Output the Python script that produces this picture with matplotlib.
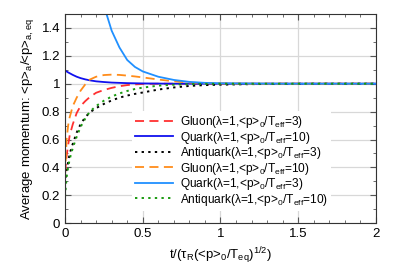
import matplotlib.pyplot as plt
from matplotlib.ticker import MultipleLocator

plt.rcParams['font.family'] = ['Liberation Sans', 'DejaVu Sans']
plt.rcParams['mathtext.fontset'] = 'custom'
plt.rcParams['mathtext.rm'] = 'Liberation Sans'

# -------------------------------------------------
# data
# -------------------------------------------------
t = [0, 0.01, 0.02, 0.03, 0.05, 0.075, 0.1, 0.13, 0.16, 0.2, 0.25, 0.3, 0.35,
     0.4, 0.45, 0.5, 0.6, 0.7, 0.8, 0.9, 1.0, 1.2, 1.4, 1.6, 1.8, 2.0]

gluon_3 = [0.36, 0.48, 0.56, 0.63, 0.71, 0.79, 0.84, 0.875, 0.905, 0.935, 0.955, 0.97, 0.982,
           0.99, 0.995, 0.998, 1.0, 1.0, 1.0, 1.0, 1.0, 1.0, 1.0, 1.0, 1.0, 1.0]
quark_10 = [1.095, 1.088, 1.081, 1.075, 1.063, 1.05, 1.04, 1.031, 1.024, 1.017, 1.012, 1.008, 1.006,
            1.004, 1.003, 1.002, 1.001, 1.0, 1.0, 1.0, 1.0, 1.0, 1.0, 1.0, 1.0, 1.0]
anti_3 = [0.28, 0.38, 0.44, 0.50, 0.57, 0.65, 0.71, 0.76, 0.795, 0.825, 0.855, 0.88, 0.9,
          0.915, 0.927, 0.937, 0.958, 0.973, 0.984, 0.99, 0.993, 0.997, 0.999, 1.0, 1.0, 1.0]
gluon_10 = [0.34, 0.6, 0.7, 0.76, 0.84, 0.9, 0.95, 0.995, 1.03, 1.05, 1.062, 1.065, 1.063,
            1.058, 1.052, 1.045, 1.03, 1.017, 1.008, 1.004, 1.002, 1.0, 1.0, 1.0, 1.0, 1.0]
quark_3 = [3.5, 3.35, 3.2, 3.05, 2.8, 2.5, 2.25, 2.0, 1.82, 1.68, 1.56, 1.38, 1.26,
           1.17, 1.12, 1.088, 1.05, 1.027, 1.013, 1.006, 1.003, 1.001, 1.0, 1.0, 1.0, 1.0]
anti_10 = [0.19, 0.33, 0.40, 0.46, 0.54, 0.62, 0.69, 0.75, 0.80, 0.84, 0.878, 0.908, 0.93,
           0.948, 0.962, 0.972, 0.986, 0.993, 0.997, 0.999, 1.0, 1.0, 1.0, 1.0, 1.0, 1.0]

def lab(name, r):
    return name + r'(λ=1,<p>$_\mathregular{0}$/T$_\mathregular{eff}$=' + r + ')'

# -------------------------------------------------
# plot
# -------------------------------------------------
fig = plt.figure(figsize=(3.99, 2.79), dpi=100)
ax = fig.add_axes([0.163, 0.2, 0.779, 0.75])

ax.plot(t, gluon_3, color='#ff3030', ls=(0, (5, 3)), lw=1.3, label=lab('Gluon', '3'))
ax.plot(t, quark_10, color='#1010ee', ls='-', lw=1.3, label=lab('Quark', '10'))
ax.plot(t, anti_3, color='black', ls=(0, (1.2, 2.2)), lw=1.4, label=lab('Antiquark', '3'))
ax.plot(t, gluon_10, color='#ff8c1a', ls=(0, (5, 3)), lw=1.3, label=lab('Gluon', '10'))
ax.plot(t, quark_3, color='#2090ff', ls='-', lw=1.3, label=lab('Quark', '3'))
ax.plot(t, anti_10, color='#1a9a10', ls=(0, (1.2, 2.2)), lw=1.4, label=lab('Antiquark', '10'))

ax.set_xlim(0, 2)
ax.set_ylim(0, 1.5)
ax.set_xticks([0, 0.5, 1, 1.5, 2])
ax.set_xticklabels(['0', '0.5', '1', '1.5', '2'])
ax.set_yticks([0, 0.2, 0.4, 0.6, 0.8, 1.0, 1.2, 1.4])
ax.set_yticklabels(['0', '0.2', '0.4', '0.6', '0.8', '1', '1.2', '1.4'])
ax.xaxis.set_minor_locator(MultipleLocator(0.1))
ax.yaxis.set_minor_locator(MultipleLocator(0.1))
ax.tick_params(which='both', direction='in', top=True, right=True, labelsize=9.5, color='#555555')
ax.tick_params(which='major', length=4)
ax.tick_params(which='minor', length=2)
ax.grid(True, which='major', color='#d8d8d8', lw=0.9)
ax.set_axisbelow(True)
for s in ax.spines.values():
    s.set_color('#333333')

ax.set_xlabel(r't/(τ$_\mathregular{R}$(<p>$_\mathregular{0}$/T$_\mathregular{eq}$)$^\mathregular{1/2}$)', fontsize=9.5)
ax.set_ylabel(r'Average momentum: <p>$_\mathregular{a}$/<p>$_\mathregular{a,eq}$', fontsize=9.5)

leg = ax.legend(loc='lower left', bbox_to_anchor=(0.215, 0.06), borderaxespad=0, fontsize=8.6,
                frameon=True, fancybox=False, edgecolor='none', facecolor='white', framealpha=1,
                handlelength=3.2, handletextpad=0.6, labelspacing=-0.04, borderpad=0.25)

plt.savefig('out.png', dpi=100)
